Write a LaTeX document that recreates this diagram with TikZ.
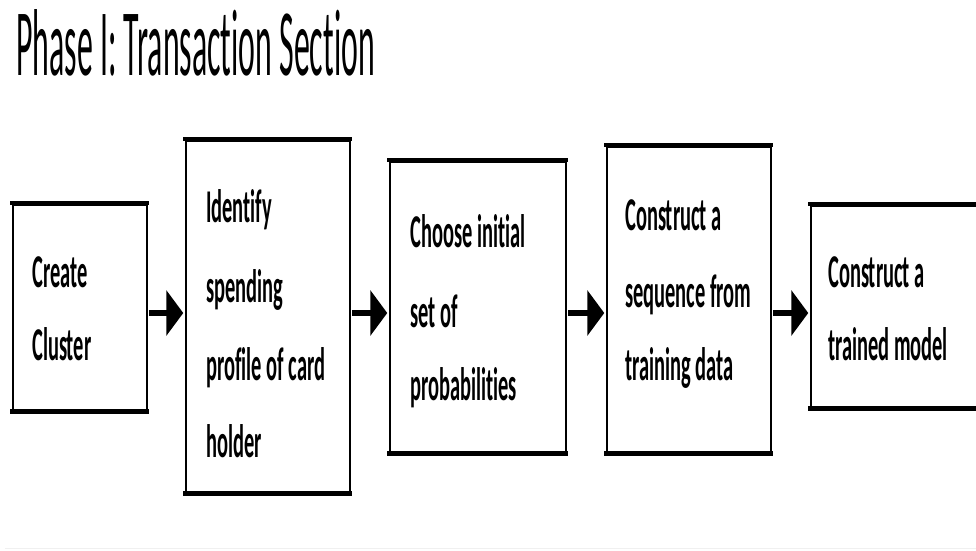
\documentclass[tikz,border=0pt]{standalone}
\usepackage{fontspec}
\usetikzlibrary{arrows.meta}
\newfontfamily\titlefont[FakeStretch=0.335,Ligatures=NoCommon]{Carlito}
\newfontfamily\boxfont[FakeStretch=0.435,Ligatures=NoCommon]{Carlito}
\begin{document}
\begin{tikzpicture}[x=1pt,y=-1pt,
  box/.style={draw, line width=2.5pt, anchor=north west, inner sep=0pt},
  rim/.style={line width=4.5pt},
  lbl/.style={anchor=base west, inner sep=0pt, font=\boxfont\bfseries\fontsize{47}{47}\selectfont},
  ttl/.style={anchor=base west, inner sep=0pt, font=\titlefont\fontsize{95}{95}\selectfont},
  arr/.style={line width=6pt, -{Triangle[length=17pt,width=45pt]}}]
\useasboundingbox (0,0) rectangle (976,550);
\fill[white] (0,0) rectangle (976,550);
% title
\node[ttl] (title) at (16,75) {Phase I: Transaction Section};
% boxes
\node[box, minimum width=134pt, minimum height=206pt] (b1) at (11.5,203) {};
\node[box, minimum width=164pt, minimum height=352pt] (b2) at (184.5,139) {};
\node[box, minimum width=176pt, minimum height=291pt] (b3) at (388.5,160) {};
\node[box, minimum width=164pt, minimum height=306pt] (b4) at (605.5,145) {};
\node[box, minimum width=190pt, minimum height=202pt] (b5) at (809.5,204) {};
\foreach \b in {b1,b2,b3,b4,b5}{
  \draw[rim] ([xshift=-1.25pt]\b.north west) -- ([xshift=1.25pt]\b.north east);
  \draw[rim] ([xshift=-1.25pt]\b.south west) -- ([xshift=1.25pt]\b.south east);
}
% texts
\node[lbl] (b1a) at (32,287) {Create};
\node[lbl] (b1b) at (32,360) {Cluster};
\node[lbl] (b2a) at (206,222) {Identify};
\node[lbl] (b2b) at (206,302) {spending};
\node[lbl] (b2c) at (206,380) {profile of card};
\node[lbl] (b2d) at (206,457) {holder};
\node[lbl] (b3a) at (410,247) {Choose initial};
\node[lbl] (b3b) at (410,327) {set of};
\node[lbl] (b3c) at (410,400) {probabilities};
\node[lbl] (b4a) at (625,230) {Construct a};
\node[lbl] (b4b) at (625,307) {sequence from};
\node[lbl] (b4c) at (625,380) {training data};
\node[lbl] (b5a) at (828,287) {Construct a};
\node[lbl] (b5b) at (828,360) {trained model};
% arrows
\coordinate (ay) at (0,313);
\draw[arr] ([xshift=1.25pt]b1.east |- ay) -- ([xshift=-1.25pt]b2.west |- ay);
\draw[arr] ([xshift=1.25pt]b2.east |- ay) -- ([xshift=-1.25pt]b3.west |- ay);
\draw[arr] ([xshift=1.25pt]b3.east |- ay) -- ([xshift=-1.25pt]b4.west |- ay);
\draw[arr] ([xshift=1.25pt]b4.east |- ay) -- ([xshift=-1.25pt]b5.west |- ay);
% faint base line
\coordinate (f1) at (5,548.5);
\coordinate (f2) at (976,548.5);
\draw[black!6, line width=1pt] (f1) -- (f2);
\end{tikzpicture}
\end{document}
